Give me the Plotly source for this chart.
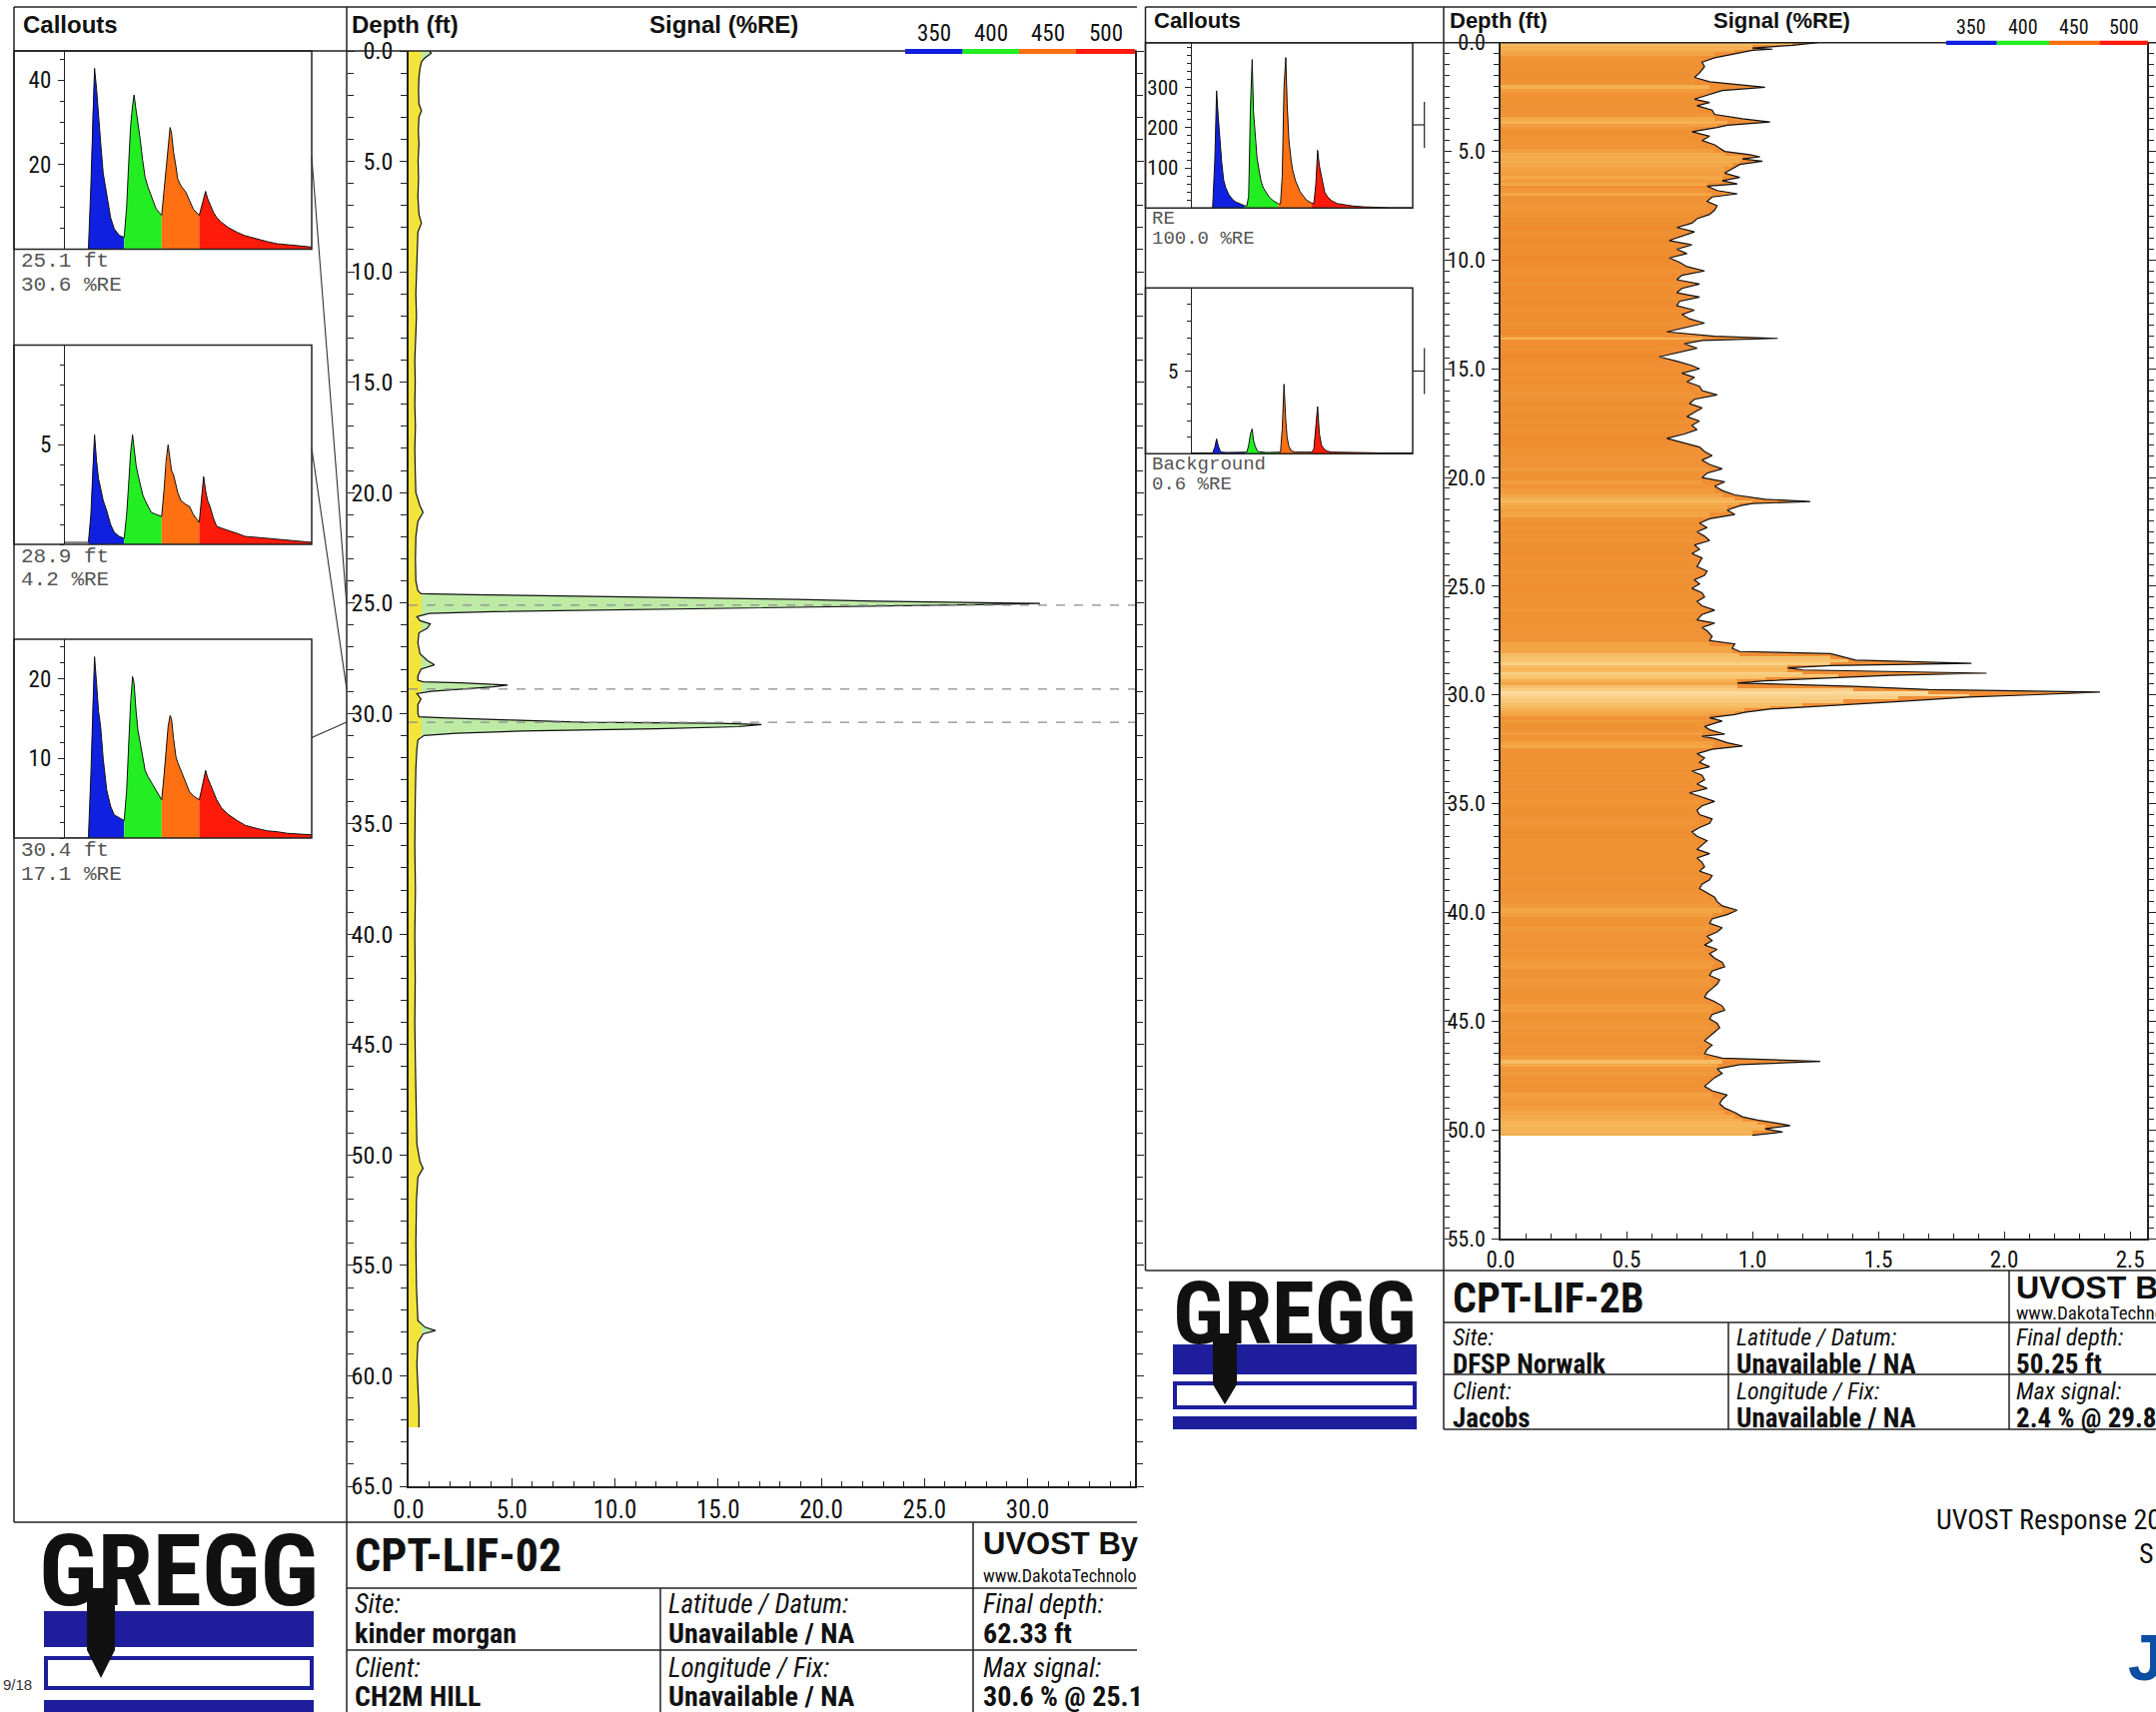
import numpy as np
import plotly.graph_objects as go

# ---------------- DATA ----------------
# Left log: CPT-LIF-02 (depth ft, signal %RE)
left_depth = [0.0, 0.1, 0.2, 0.35, 0.5, 0.8, 1.2, 1.8, 2.4, 2.7, 3.0, 3.6, 4.2, 5.0, 5.8, 6.6, 7.4, 7.8, 8.2,
              9.0, 10.0, 11.0, 12.0, 13.0, 14.0, 15.0, 16.0, 17.0, 18.0, 19.0, 20.0, 20.6, 20.9, 21.3, 22.0,
              23.0, 24.0, 24.45, 24.58, 24.62, 24.66, 24.72, 24.77, 24.84, 24.92, 24.97, 25.02, 25.08, 25.16,
              25.23, 25.31, 25.39, 25.47, 25.62, 25.8, 25.95, 26.15, 26.35, 26.8, 27.3, 27.6, 27.8, 28.0,
              28.3, 28.5, 28.57, 28.62, 28.68, 28.72, 28.8, 28.9, 29.0, 29.1, 29.35, 29.6, 30.0, 30.15,
              30.2, 30.3, 30.4, 30.45, 30.5, 30.6, 30.7, 30.8, 30.9, 31.0, 31.2, 31.6, 32.5, 34.0, 36.0,
              38.0, 40.0, 42.0, 44.0, 46.0, 48.0, 49.5, 50.3, 50.6, 51.0, 52.0, 54.0, 56.0, 57.5, 57.8,
              57.95, 58.1, 58.5, 59.5, 60.5, 61.5, 62.33]
left_signal = [1.0, 1.1, 0.95, 0.75, 0.62, 0.55, 0.5, 0.48, 0.5, 0.62, 0.5, 0.47, 0.5, 0.46, 0.48, 0.45, 0.5, 0.62, 0.45,
               0.42, 0.38, 0.35, 0.38, 0.33, 0.3, 0.32, 0.3, 0.33, 0.3, 0.32, 0.35, 0.55, 0.7, 0.45, 0.35,
               0.33, 0.35, 0.45, 0.6, 3.0, 6.0, 8.3, 12.2, 18.8, 22.6, 27.5, 30.6, 27.5, 21.3,
               16.4, 10.0, 4.1, 1.0, 0.4, 0.55, 1.05, 0.9, 0.5, 0.45, 0.55, 0.9, 1.25, 0.6,
               0.45, 0.45, 0.7, 2.5, 4.0, 4.8, 4.1, 2.5, 1.1, 0.4, 0.6, 0.45, 0.45, 0.5,
               1.6, 5.0, 8.5, 15.0, 17.1, 16.0, 12.0, 5.5, 2.3, 0.75, 0.45, 0.4, 0.35, 0.32, 0.3,
               0.33, 0.3, 0.32, 0.3, 0.33, 0.35, 0.4, 0.55, 0.7, 0.45, 0.38, 0.35, 0.38, 0.45, 0.8,
               1.3, 0.7, 0.45, 0.4, 0.45, 0.5, 0.5]

# Right log: CPT-LIF-2B
right_depth = [0.0, 0.12, 0.25, 0.3, 0.35, 0.5, 0.7, 0.9, 1.1, 1.4, 1.6, 1.8, 2.05, 2.2, 2.4, 2.6, 2.75, 2.9,
               3.1, 3.3, 3.5, 3.65, 3.8, 3.9, 4.1, 4.3, 4.5, 4.7, 5.0, 5.15, 5.25, 5.35, 5.45, 5.6, 5.8,
               6.0, 6.2, 6.35, 6.5, 6.6, 6.8, 6.95, 7.1, 7.3, 7.5, 7.7, 7.9, 8.1, 8.3, 8.5, 8.7, 8.9,
               9.1, 9.3, 9.5, 9.7, 9.9, 10.1, 10.3, 10.5, 10.7, 10.9, 11.1, 11.3, 11.5, 11.7, 11.9,
               12.1, 12.3, 12.5, 12.7, 12.9, 13.1, 13.3, 13.5, 13.6, 13.7, 13.85, 14.05, 14.25, 14.45,
               14.65, 14.85, 15.0, 15.2, 15.4, 15.6, 15.8, 16.0, 16.2, 16.4, 16.6, 16.8, 17.0, 17.2,
               17.4, 17.6, 17.8, 18.0, 18.2, 18.4, 18.6, 18.8, 19.0, 19.2, 19.4, 19.6, 19.8, 20.0,
               20.2, 20.4, 20.6, 20.8, 21.0, 21.1, 21.2, 21.3, 21.5, 21.7, 21.9, 22.1, 22.3, 22.5,
               22.7, 22.9, 23.1, 23.3, 23.5, 23.7, 23.9, 24.1, 24.3, 24.5, 24.7, 24.9, 25.1, 25.3,
               25.5, 25.7, 25.9, 26.1, 26.3, 26.55, 26.7, 26.9, 27.05, 27.3, 27.5, 27.65, 27.85, 28.0,
               28.1, 28.3, 28.4, 28.55, 28.65, 28.75, 28.85, 29.0, 29.1, 29.2, 29.35, 29.45, 29.6,
               29.75, 29.87, 30.0, 30.1, 30.3, 30.45, 30.55, 30.65, 30.8, 30.9, 31.05, 31.2, 31.3,
               31.45, 31.6, 31.8, 31.9, 32.0, 32.2, 32.35, 32.5, 32.7, 32.9, 33.1, 33.3, 33.5, 33.7,
               33.9, 34.1, 34.3, 34.5, 34.7, 34.9, 35.1, 35.3, 35.5, 35.7, 35.9, 36.1, 36.3, 36.5,
               36.7, 36.9, 37.1, 37.3, 37.5, 37.7, 37.9, 38.1, 38.3, 38.5, 38.7, 38.9, 39.1, 39.3,
               39.5, 39.7, 39.9, 40.1, 40.3, 40.5, 40.7, 40.9, 41.1, 41.3, 41.5, 41.7, 41.9, 42.1,
               42.3, 42.5, 42.7, 42.9, 43.1, 43.3, 43.5, 43.7, 43.9, 44.1, 44.3, 44.5, 44.7, 44.9,
               45.1, 45.3, 45.5, 45.7, 45.9, 46.1, 46.3, 46.5, 46.7, 46.85, 47.0, 47.2, 47.4, 47.6,
               47.8, 48.0, 48.2, 48.4, 48.6, 48.8, 49.0, 49.2, 49.4, 49.55, 49.7, 49.8, 49.95, 50.1,
               50.25]
right_signal = [1.26, 1.16, 1.0, 1.08, 1.0, 0.93, 0.85, 0.80, 0.81, 0.79, 0.77, 0.83, 1.05, 0.88, 0.82, 0.77, 0.83, 0.78,
                0.84, 0.85, 0.96, 1.07, 0.90, 0.86, 0.76, 0.83, 0.80, 0.85, 0.89, 0.99, 1.03, 0.96, 1.04, 0.95, 0.92,
                0.89, 0.95, 0.88, 0.94, 0.82, 0.86, 0.94, 0.84, 0.82, 0.86, 0.85, 0.83, 0.78, 0.76, 0.70, 0.77, 0.72,
                0.67, 0.76, 0.70, 0.74, 0.67, 0.71, 0.74, 0.81, 0.72, 0.70, 0.79, 0.72, 0.70, 0.79, 0.71,
                0.70, 0.77, 0.72, 0.75, 0.81, 0.74, 0.66, 0.85, 1.10, 0.80, 0.73, 0.78, 0.70, 0.63,
                0.70, 0.76, 0.79, 0.72, 0.77, 0.74, 0.79, 0.80, 0.86, 0.77, 0.75, 0.80, 0.77, 0.74,
                0.79, 0.76, 0.78, 0.73, 0.66, 0.72, 0.79, 0.81, 0.84, 0.80, 0.83, 0.88, 0.82, 0.80,
                0.89, 0.85, 0.88, 0.93, 1.05, 1.23, 1.00, 0.95, 0.90, 0.93, 0.83, 0.79, 0.82, 0.78,
                0.81, 0.83, 0.77, 0.79, 0.76, 0.80, 0.79, 0.78, 0.82, 0.81, 0.77, 0.79, 0.76, 0.80,
                0.81, 0.78, 0.80, 0.85, 0.80, 0.78, 0.85, 0.80, 0.82, 0.84, 0.83, 0.93, 0.92, 0.95,
                1.31, 1.38, 1.41, 1.87, 1.31, 1.14, 1.20, 1.93, 1.55, 1.34, 1.05, 0.94, 1.40,
                1.70, 2.38, 2.10, 1.86, 1.58, 1.36, 1.20, 1.07, 0.97, 0.93, 0.83, 0.88, 0.85,
                0.81, 0.83, 0.89, 0.80, 0.85, 0.90, 0.96, 0.84, 0.78, 0.81, 0.79, 0.83, 0.76, 0.80,
                0.81, 0.78, 0.82, 0.75, 0.80, 0.85, 0.80, 0.78, 0.79, 0.84, 0.83, 0.79, 0.76, 0.78,
                0.82, 0.80, 0.78, 0.83, 0.78, 0.80, 0.81, 0.79, 0.84, 0.83, 0.80, 0.79, 0.82, 0.85,
                0.86, 0.88, 0.94, 0.90, 0.84, 0.83, 0.88, 0.86, 0.82, 0.84, 0.81, 0.86, 0.83, 0.85,
                0.88, 0.89, 0.84, 0.83, 0.87, 0.86, 0.84, 0.82, 0.81, 0.85, 0.88, 0.89, 0.84, 0.83,
                0.86, 0.87, 0.85, 0.83, 0.81, 0.84, 0.82, 0.81, 0.88, 1.27, 0.95, 0.86, 0.88, 0.85,
                0.83, 0.81, 0.84, 0.90, 0.88, 0.87, 0.89, 0.93, 0.96, 1.02, 1.10, 1.15, 1.05, 1.12,
                1.00]

# Waveform callouts (time axis, arbitrary units) and channel boundaries
wave_t = [0, 5, 9.5, 10.5, 11.3, 12.0, 12.8, 13.6, 14.5, 15.5, 16.9, 18.5, 20.0, 22.0, 24.0,
          25.0, 25.8, 26.6, 27.4, 28.0, 28.8, 29.6, 30.5, 31.5, 32.5, 33.7, 35.0, 37.0, 39.2,
          40.2, 41.0, 41.8, 42.6, 43.2, 44.0, 45.0, 45.7, 47.0, 49.0, 50.5, 52.0, 54.4,
          55.3, 56.2, 57.0, 57.8, 58.8, 60.2, 61.5, 63.4, 66.0, 69.8, 73.0, 77.8, 82.0, 85.9, 90.0, 95.0, 100.0]
channel_edges = [9.5, 24.0, 39.2, 54.4, 100.0]
channel_names = ['350', '400', '450', '500']

wave_left_1 = [0, 0, 0, 15, 33, 42.8, 38, 31, 25, 18, 12.7, 7.5, 4.8, 3.3, 2.8,
               10, 20, 29, 34, 36.5, 33, 29, 26, 21, 17, 14.6, 12.5, 9.5, 8,
               14, 20, 25, 28.8, 27.5, 23, 19.5, 16.6, 15, 13.5, 11.5, 9.5, 8,
               10, 12.5, 13.7, 12, 10.5, 8.7, 7.5, 6.4, 5.2, 4.0, 3.2, 2.4, 1.8, 1.3, 1.0, 0.8, 0.5]
wave_left_2 = [0.1, 0.1, 0.1, 1.5, 4.0, 5.5, 4.2, 3.3, 2.8, 2.2, 1.7, 1.0, 0.6, 0.4, 0.3,
               1.5, 3.0, 4.6, 5.5, 4.8, 4.0, 3.5, 3.0, 2.5, 2.2, 1.9, 1.6, 1.5, 1.4,
               2.8, 4.2, 5.0, 4.2, 3.7, 3.5, 2.9, 2.6, 2.2, 2.0, 1.9, 1.5, 1.1,
               2.2, 3.4, 2.7, 2.2, 1.9, 1.3, 0.9, 0.8, 0.7, 0.55, 0.4, 0.35, 0.3, 0.25, 0.2, 0.15, 0.1]
wave_left_3 = [0, 0, 0, 8, 17, 22.8, 19.5, 16, 13.9, 10, 6.1, 4.0, 2.9, 2.5, 2.2,
               6, 12, 17, 20.3, 19.5, 16, 13.5, 12, 10, 8.5, 7.7, 7.0, 6.1, 4.8,
               8, 11.5, 14, 15.4, 15.0, 12.5, 10.2, 9.5, 8.5, 7.0, 5.8, 5.3, 4.8,
               6.0, 7.5, 8.5, 7.6, 6.8, 5.8, 4.8, 3.8, 3.0, 2.2, 1.6, 1.2, 0.9, 0.8, 0.6, 0.5, 0.4]
wave_right_1 = [0, 0, 0, 120, 292, 230, 165, 115, 70, 50, 33, 22, 15, 10, 6,
                5, 30, 250, 370, 240, 170, 125, 95, 65, 50, 38, 28, 18, 11,
                10, 80, 300, 375, 260, 170, 120, 95, 68, 42, 30, 20, 12,
                12, 60, 144, 105, 75, 40, 28, 18, 11, 7, 5, 3, 2, 1.5, 1, 1, 1]
wave_right_2 = [0.05, 0.05, 0.05, 0.4, 0.9, 0.5, 0.2, 0.1, 0.08, 0.08, 0.08, 0.08, 0.08, 0.08, 0.08,
                0.1, 0.5, 1.2, 1.5, 0.8, 0.45, 0.2, 0.12, 0.1, 0.1, 0.08, 0.08, 0.08, 0.08,
                0.1, 1.5, 4.2, 2.0, 1.0, 0.45, 0.2, 0.15, 0.1, 0.1, 0.1, 0.1, 0.1,
                0.3, 1.8, 2.85, 1.2, 0.5, 0.25, 0.15, 0.1, 0.1, 0.08, 0.08, 0.06, 0.06, 0.05, 0.05, 0.05, 0.05]

left_callout_depth = [25.1, 28.9, 30.4]
left_callout_signal = [30.6, 4.2, 17.1]
right_callout_name = ['RE', 'Background']
right_callout_signal = [100.0, 0.6]

# ---------------- STYLE / LAYOUT ----------------
W, H = 2158, 1714
FN = "Liberation Sans Narrow, Arial Narrow, Roboto Condensed, DejaVu Sans Condensed, Liberation Sans, Arial, sans-serif"
FA = "Liberation Sans, Arial, sans-serif"
FM = "Liberation Mono, DejaVu Sans Mono, monospace"
CH_COLORS = ['#1020E0', '#22EE22', '#FF7012', '#FF1A0A']
LOGO_BLUE = '#1E1E9C'


def X(px):
    return px / W


def Y(py):
    return 1 - py / H


shapes, annotations = [], []


def line(x0, y0, x1, y1, color='#222', width=1.5, dash=None):
    shapes.append(dict(type='line', xref='paper', yref='paper', x0=X(x0), y0=Y(y0), x1=X(x1), y1=Y(y1),
                       line=dict(color=color, width=width, dash=dash), layer='above'))


def rect(x0, y0, x1, y1, fill=None, color='#222', width=1.5, layer='above'):
    shapes.append(dict(type='rect', xref='paper', yref='paper', x0=X(x0), y0=Y(y0), x1=X(x1), y1=Y(y1),
                       fillcolor=fill if fill else 'rgba(0,0,0,0)', line=dict(color=color, width=width), layer=layer))


def txt(x, y, s, size, color='#111', xanchor='left', family=FN):
    annotations.append(dict(xref='paper', yref='paper', x=X(x), y=Y(y), text=s, showarrow=False,
                            xanchor=xanchor, yanchor='middle', font=dict(size=size, color=color, family=family)))


fig = go.Figure()

# ---------- Left depth log ----------
left_clip = np.minimum(np.array(left_signal), 0.62)
fig.add_trace(go.Scatter(x=left_signal, y=left_depth, fill='tozerox', fillcolor='#BDEBA5', mode='lines',
                         line=dict(width=0), xaxis='x', yaxis='y', showlegend=False, hoverinfo='skip'))
fig.add_trace(go.Scatter(x=left_clip, y=left_depth, fill='tozerox', fillcolor='#F3E43A', mode='lines',
                         line=dict(width=0), xaxis='x', yaxis='y', showlegend=False, hoverinfo='skip'))
fig.add_trace(go.Scatter(x=left_signal, y=left_depth, mode='lines', line=dict(color='#111', width=1.2),
                         xaxis='x', yaxis='y', showlegend=False))

# ---------- Right depth log ----------
rd = np.array(right_depth)
rs = np.array(right_signal)
edges = np.concatenate([[rd[0]], (rd[:-1] + rd[1:]) / 2, [rd[-1]]])
centers = (edges[:-1] + edges[1:]) / 2
thick = np.diff(edges)
nb_min = np.minimum(rs, np.minimum(np.r_[rs[0], rs[:-1]], np.r_[rs[1:], rs[-1]]))
# base fill (subplot x2/y2), banding bars + outline on overlay subplot x2/y9 (drawn above)
fig.add_trace(go.Scatter(x=right_signal, y=right_depth, fill='tozerox', fillcolor='#F08E36', mode='lines',
                         line=dict(width=0), xaxis='x2', yaxis='y2', showlegend=False, hoverinfo='skip'))
fig.add_trace(go.Bar(x=nb_min, y=centers, width=thick, orientation='h', xaxis='x2', yaxis='y9',
                     marker=dict(color=right_signal, cmin=0.65, cmax=2.4,
                                 colorscale=[[0, '#EE892C'], [0.114, '#F09436'], [0.154, '#F3A444'],
                                             [0.257, '#F6B456'], [0.486, '#F8C674'], [1, '#FBDBA0']],
                                 line=dict(width=0)), showlegend=False, hoverinfo='skip'))
fig.add_trace(go.Scatter(x=right_signal, y=right_depth, mode='lines', line=dict(color='#111', width=1.2),
                         xaxis='x2', yaxis='y9', showlegend=False))

# ---------- Waveform callouts ----------
waves = [wave_left_1, wave_left_2, wave_left_3, wave_right_1, wave_right_2]
t = np.array(wave_t)
for k, w in enumerate(waves):
    ax = str(k + 3)
    w = np.array(w)
    for c in range(4):
        m = (t >= channel_edges[c]) & (t <= channel_edges[c + 1])
        fig.add_trace(go.Scatter(x=t[m], y=w[m], fill='tozeroy', fillcolor=CH_COLORS[c], mode='lines',
                                 line=dict(width=0), xaxis='x' + ax, yaxis='y' + ax, showlegend=False,
                                 hoverinfo='skip', name=channel_names[c]))
    fig.add_trace(go.Scatter(x=t, y=w, mode='lines', line=dict(color='#111', width=1),
                             xaxis='x' + ax, yaxis='y' + ax, showlegend=False))

# dummy trace for left divider tick axis
fig.add_trace(go.Scatter(x=[0], y=[0], mode='markers', marker=dict(opacity=0), xaxis='x', yaxis='y8',
                         showlegend=False, hoverinfo='skip'))

tickc = '#222'
lay = dict(width=W, height=H, margin=dict(l=0, r=0, t=0, b=0, autoexpand=False), paper_bgcolor='white',
           plot_bgcolor='white', showlegend=False, bargap=0)

# left log axes
lay['xaxis'] = dict(domain=[X(409), X(1136)], range=[0, 35.2], anchor='y', tickmode='array',
                    tickvals=[0, 5, 10, 15, 20, 25, 30], ticktext=['0.0', '5.0', '10.0', '15.0', '20.0', '25.0', '30.0'],
                    ticks='inside', ticklen=8, tickcolor=tickc,
                    minor=dict(tickmode='linear', tick0=0, dtick=1, ticks='inside', ticklen=5, tickcolor=tickc),
                    showline=True, linecolor='#222', linewidth=1.5, showgrid=False, zeroline=False,
                    automargin=False, tickfont=dict(family=FN, size=25, color='#111'))
lay['yaxis'] = dict(domain=[Y(1488), Y(51)], range=[65, 0], anchor='x', tickmode='linear', tick0=0, dtick=5,
                    tickformat='.1f', ticks='outside', ticklen=7, tickcolor=tickc,
                    minor=dict(dtick=1, ticks='outside', ticklen=6, tickcolor=tickc),
                    showline=True, linecolor='#222', linewidth=1.5, mirror='allticks', showgrid=False,
                    zeroline=False, automargin=False, tickfont=dict(family=FN, size=24, color='#111'),
                    ticklabelstandoff=2)
lay['yaxis8'] = dict(overlaying='y', anchor='free', position=X(347), side='right', range=[65, 0],
                     tickmode='linear', tick0=0, dtick=5, ticks='outside', ticklen=7, tickcolor=tickc,
                     minor=dict(dtick=1, ticks='outside', ticklen=6, tickcolor=tickc), automargin=False,
                     showticklabels=False, showline=False, showgrid=False, zeroline=False)

# right log axes
lay['xaxis2'] = dict(domain=[X(1502), X(2149)], range=[0, 2.567], anchor='y2', tickmode='linear', tick0=0,
                     dtick=0.5, tickformat='.1f', ticks='inside', ticklen=7, tickcolor=tickc,
                     minor=dict(dtick=0.1, ticks='inside', ticklen=5, tickcolor=tickc),
                     showline=True, linecolor='#222', linewidth=1.5, showgrid=False, zeroline=False,
                     automargin=False, tickfont=dict(family=FN, size=23, color='#111'))
lay['yaxis2'] = dict(domain=[Y(1240), Y(42.7)], range=[55, 0], anchor='x2', tickmode='linear', tick0=0, dtick=5,
                     tickformat='.1f', ticks='outside', ticklen=7, tickcolor=tickc,
                     minor=dict(dtick=0.5, ticks='outside', ticklen=5, tickcolor=tickc),
                     showline=True, linecolor='#222', linewidth=1.5, mirror='allticks', showgrid=False,
                     zeroline=False, automargin=False, tickfont=dict(family=FN, size=22, color='#111'),
                     ticklabelstandoff=2)
lay['yaxis9'] = dict(overlaying='y2', anchor='free', position=X(1445), side='right', range=[55, 0],
                     tickmode='linear', tick0=0, dtick=5, ticks='outside', ticklen=7, tickcolor=tickc,
                     minor=dict(dtick=0.5, ticks='outside', ticklen=5, tickcolor=tickc), automargin=False,
                     showticklabels=False, showline=False, showgrid=False, zeroline=False)

# callout axes
callout_boxes = [  # (x_axis_px, x_right_px, top_px, bottom_px, ymax, tickvals, minor dtick, font)
    (65, 312, 51, 249.5, 46.9, [20, 40], 5, 23),
    (65, 312, 345.5, 545, 10.0, [5], 1, 23),
    (65, 312, 640, 839, 25.0, [10, 20], 2, 23),
    (1192.7, 1414, 42.7, 208.3, 412, [100, 200, 300], 20, 21),
    (1192.7, 1414, 288.3, 454.3, 10.0, [5], 1, 21),
]
for k, (xa, xb, top, bot, ymax, tv, mdt, fs) in enumerate(callout_boxes):
    n = str(k + 3)
    lay['xaxis' + n] = dict(domain=[X(xa), X(xb)], range=[0, 100], anchor='y' + n, showticklabels=False,
                            ticks='', showline=False, showgrid=False, zeroline=False, automargin=False)
    lay['yaxis' + n] = dict(domain=[Y(bot), Y(top)], range=[0, ymax], anchor='x' + n, tickmode='array',
                            tickvals=tv, ticks='outside', ticklen=6, tickcolor=tickc,
                            minor=dict(tickmode='linear', tick0=0, dtick=mdt, ticks='outside', ticklen=4,
                                       tickcolor=tickc),
                            showline=True, linecolor='#222', linewidth=1.2, showgrid=False, zeroline=False,
                            automargin=False, tickfont=dict(family=FN, size=fs, color='#111'),
                            ticklabelstandoff=2)
    fx = 14 if k < 3 else 1146.5
    rect(fx, top, xb, bot, width=1.5)

# ---------- Panel frames ----------
# left panel
line(14, 7, 1138, 7)
line(14, 51, 1138, 51)
line(14, 7, 14, 1524)
line(347, 7, 347, 1714)
line(14, 1524, 1138, 1524)
line(347, 1590, 1138, 1590)
line(347, 1652, 1138, 1652)
line(661, 1590, 661, 1714)
line(974, 1524, 974, 1714)
# right panel
line(1146.5, 7, 2158, 7)
line(1146.5, 42.7, 2158, 42.7)
line(1146.5, 7, 1146.5, 1272)
line(1445, 7, 1445, 1431)
line(1146.5, 1272, 2158, 1272)
line(1445, 1324, 2158, 1324)
line(1445, 1376, 2158, 1376)
line(1445, 1431, 2158, 1431)
line(1730, 1324, 1730, 1431)
line(2011, 1272, 2011, 1431)

# callout dashed depth lines and connectors (left)
connector_from_depth = [4.8, 18.0, 31.1]
for d, d0 in zip(left_callout_depth, connector_from_depth):
    shapes.append(dict(type='line', xref='x domain', yref='y', x0=0, x1=1, y0=d, y1=d,
                       line=dict(color='#8a8a8a', width=1.3, dash='dash'), layer='above'))
    shapes.append(dict(type='line', xref='paper', yref='y', x0=X(312), x1=X(347), y0=d0, y1=d,
                       line=dict(color='#333', width=1.1)))
# right callout brackets
for ymid in [125, 371.5]:
    line(1414, ymid, 1425.7, ymid, width=1.2)
    line(1425.7, ymid - 23, 1425.7, ymid + 23, width=1.2)

# legend bars
lx = [906, 963.5, 1020, 1077, 1136]
rx = [1948, 1998.6, 2051, 2101.6, 2150]
for i, c in enumerate(CH_COLORS):
    rect(lx[i], 49, lx[i + 1], 54, fill=c, color=c, width=0)
    txt((lx[i] + lx[i + 1]) / 2, 33, channel_names[i], 23, xanchor='center')
    rect(rx[i], 40.7, rx[i + 1], 45, fill=c, color=c, width=0)
    txt((rx[i] + rx[i + 1]) / 2, 27, channel_names[i], 20, xanchor='center')

# headers
txt(21, 24, '<b>Callouts</b>', 24, family=FA)
txt(350, 24, '<b>Depth (ft)</b>', 24, family=FA)
txt(724, 24, '<b>Signal (%RE)</b>', 24, xanchor='center', family=FA)
txt(1153, 20, '<b>Callouts</b>', 22, family=FA)
txt(1449, 20, '<b>Depth (ft)</b>', 22, family=FA)
txt(1783, 20, '<b>Signal (%RE)</b>', 22, xanchor='center', family=FA)

# callout texts
for (xa, xb, top, bot, *_), d, s in zip(callout_boxes[:3], left_callout_depth, left_callout_signal):
    txt(19, bot + 12, f'{d:.1f} ft', 21, color='#555', family=FM)
    txt(19, bot + 36, f'{s:.1f} %RE', 21, color='#555', family=FM)
for (xa, xb, top, bot, *_), nm, s in zip(callout_boxes[3:], right_callout_name, right_callout_signal):
    txt(1151, bot + 11, nm, 19, color='#555', family=FM)
    txt(1151, bot + 31, f'{s:.1f} %RE', 19, color='#555', family=FM)


# ---------- Logos ----------
def logo(x0, x1, y_text, fs, b1, b2, b3, stem_x, stem_w, stem_top, stem_v, stem_tip):
    txt((x0 + x1) / 2, y_text, '<b>GREGG</b>', fs, color='#111', xanchor='center')
    rect(x0, b1[0], x1, b1[1], fill=LOGO_BLUE, color=LOGO_BLUE, width=0)
    rect(x0 + 2, b2[0], x1 - 2, b2[1], fill='white', color=LOGO_BLUE, width=4)
    rect(x0, b3[0], x1, b3[1], fill=LOGO_BLUE, color=LOGO_BLUE, width=0)
    p = (f'M {X(stem_x - stem_w / 2)},{Y(stem_top)} L {X(stem_x + stem_w / 2)},{Y(stem_top)} '
         f'L {X(stem_x + stem_w / 2)},{Y(stem_v)} L {X(stem_x)},{Y(stem_tip)} L {X(stem_x - stem_w / 2)},{Y(stem_v)} Z')
    shapes.append(dict(type='path', xref='paper', yref='paper', path=p, fillcolor='#111', line=dict(width=0)))


logo(44, 314, 1572, 100, (1613, 1649), (1660, 1690), (1702, 1716), 101, 28, 1590, 1652, 1680)
logo(1174, 1418, 1315, 87, (1346, 1376), (1385, 1409), (1418, 1431), 1226, 24, 1335, 1386, 1406)

# ---------- Footer texts ----------
txt(353, 1557, '<b>CPT-LIF-02</b>', 46)
txt(982, 1545, '<b>UVOST By</b>', 31, family=FA)
txt(982, 1577, 'www.DakotaTechnolo', 18)
for x, a, b in [(353, 'Site:', 'kinder morgan'), (667, 'Latitude / Datum:', 'Unavailable / NA'),
                (982, 'Final depth:', '62.33 ft')]:
    txt(x, 1606, f'<i>{a}</i>', 27)
    txt(x, 1635, f'<b>{b}</b>', 28)
for x, a, b in [(353, 'Client:', 'CH2M HILL'), (667, 'Longitude / Fix:', 'Unavailable / NA'),
                (982, 'Max signal:', '30.6 % @ 25.1')]:
    txt(x, 1670, f'<i>{a}</i>', 27)
    txt(x, 1698, f'<b>{b}</b>', 28)

txt(1452, 1299, '<b>CPT-LIF-2B</b>', 42)
txt(2016, 1289, '<b>UVOST By Dakota</b>', 32, family=FA)
txt(2016, 1314, 'www.DakotaTechnologies.com', 19)
for x, a, b in [(1452, 'Site:', 'DFSP Norwalk'), (1736, 'Latitude / Datum:', 'Unavailable / NA'),
                (2016, 'Final depth:', '50.25 ft')]:
    txt(x, 1339, f'<i>{a}</i>', 24)
    txt(x, 1366, f'<b>{b}</b>', 27)
for x, a, b in [(1452, 'Client:', 'Jacobs'), (1736, 'Longitude / Fix:', 'Unavailable / NA'),
                (2016, 'Max signal:', '2.4 % @ 29.87 ft')]:
    txt(x, 1393, f'<i>{a}</i>', 24)
    txt(x, 1420, f'<b>{b}</b>', 27)

txt(1, 1686, '9/18', 15, color='#333', family=FA)
txt(1936, 1521, 'UVOST Response 2019', 28)
txt(2139, 1555, 'S', 28)
txt(2128, 1660, '<b>J</b>', 64, color='#0B4EA2', family=FA)

lay['shapes'] = shapes
lay['annotations'] = annotations
fig.update_layout(**lay)

fig.write_html("out.html", config={'displayModeBar': False},
               post_script="document.body.style.margin='0';document.body.style.overflow='hidden';")
